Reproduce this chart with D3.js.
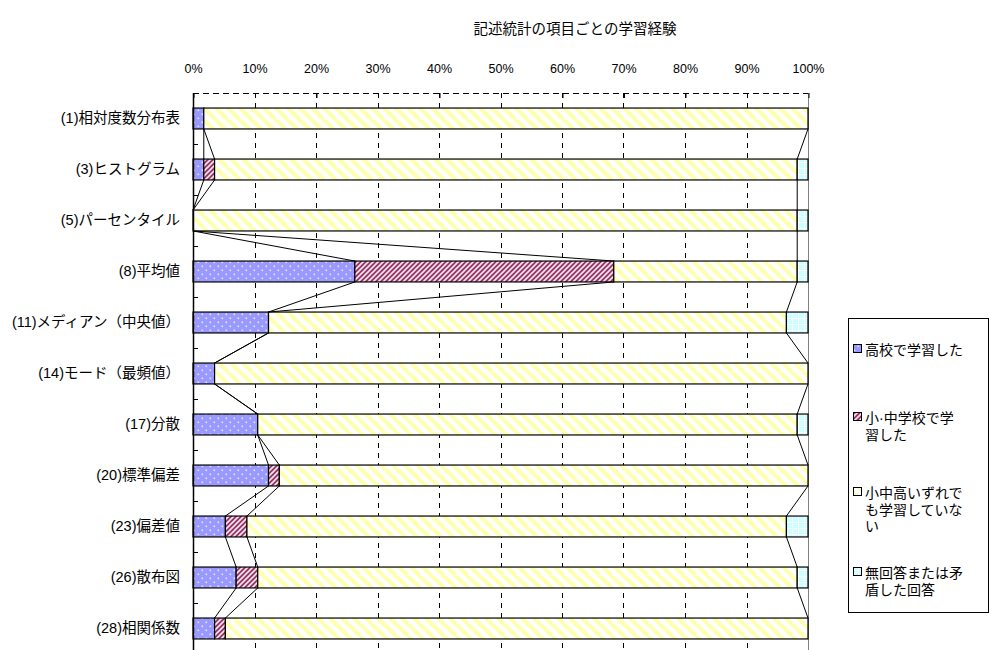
<!DOCTYPE html>
<html>
<head>
<meta charset="utf-8">
<script src="https://cdn.jsdelivr.net/npm/d3@7"></script>
<style>
  html, body { margin: 0; padding: 0; background: #fff; }
  svg { display: block; }
  text { font-family: "Liberation Sans", Arial, "Noto Sans CJK JP", sans-serif; fill: #000; }
</style>
</head>
<body>
<svg id="chart" width="990" height="650"></svg>
<script>
// Survey: for each descriptive-statistics item, where respondents learned it (counts of respondents)
const titleText = "記述統計の項目ごとの学習経験";
const categories = [
  "(1)相対度数分布表", "(3)ヒストグラム", "(5)パーセンタイル", "(8)平均値",
  "(11)メディアン（中央値）", "(14)モード（最頻値）", "(17)分散", "(20)標準偏差",
  "(23)偏差値", "(26)散布図", "(28)相関係数"
];
const seriesNames = ["高校で学習した", "小·中学校で学習した", "小中高いずれでも学習していない", "無回答または矛盾した回答"];
const legendLines = [
  ["高校で学習した"],
  ["小·中学校で学", "習した"],
  ["小中高いずれで", "も学習していな", "い"],
  ["無回答または矛", "盾した回答"]
];
const highSchool   = [1, 1, 0, 15, 7, 2, 6, 7, 3, 4, 2];
const elemJunior   = [0, 1, 0, 24, 0, 0, 0, 1, 2, 2, 1];
const notLearned   = [56, 54, 56, 17, 48, 55, 50, 49, 50, 50, 54];
const noAnswer     = [0, 1, 1, 1, 2, 0, 1, 0, 2, 1, 0];
const tickValues   = [0, 0.1, 0.2, 0.3, 0.4, 0.5, 0.6, 0.7, 0.8, 0.9, 1.0];

const rows = categories.map((c, i) => ({
  cat: c, s0: highSchool[i], s1: elemJunior[i], s2: notLearned[i], s3: noAnswer[i]
}));
const keys = ["s0", "s1", "s2", "s3"];

const svg = d3.select("#chart");
const defs = svg.append("defs");

// Fill patterns for the four series
function pattern(id, w, h, build) {
  const p = defs.append("pattern").attr("id", id).attr("patternUnits", "userSpaceOnUse")
    .attr("width", w).attr("height", h);
  build(p);
}
pattern("pBlue", 8, 8, p => {
  p.append("rect").attr("width", 8).attr("height", 8).attr("fill", "#9999ff");
  p.append("rect").attr("x", 1.5).attr("y", 1.5).attr("width", 1.6).attr("height", 1.6).attr("fill", "#e4e4ff");
  p.append("rect").attr("x", 5.5).attr("y", 5.5).attr("width", 1.6).attr("height", 1.6).attr("fill", "#e4e4ff");
});
pattern("pMaroon", 5, 5, p => {
  p.append("rect").attr("width", 5).attr("height", 5).attr("fill", "#993366");
  p.append("path").attr("d", "M-1,1 L1,-1 M0,5 L5,0 M4,6 L6,4")
    .attr("stroke", "#f6e6ee").attr("stroke-width", 1.6);
});
pattern("pYellow", 12, 12, p => {
  p.append("rect").attr("width", 12).attr("height", 12).attr("fill", "#ffffff");
  p.append("path").attr("d", "M0,0 L12,12 M-6,6 L0,12 M6,-6 L18,6")
    .attr("stroke", "#ffffb0").attr("stroke-width", 4.2);
});
pattern("pCyan", 6, 6, p => {
  p.append("rect").attr("width", 6).attr("height", 6).attr("fill", "#ccffff");
  p.append("path").attr("d", "M0,0.5 H6 M0.5,0 V6").attr("stroke", "#ffffff").attr("stroke-width", 1);
});
const fills = ["url(#pBlue)", "url(#pMaroon)", "url(#pYellow)", "url(#pCyan)"];

// Plot area
const plotL = 193, plotR = 808, plotT = 93, plotB = 654;
const x = d3.scaleLinear().domain([0, 1]).range([plotL, plotR]);
const y = d3.scaleBand().domain(categories).range([plotT, plotB]).padding(0);
const step = y.step();
const barH = step * 0.41;
const barY = c => y(c) + (step - barH) / 2;

// Title
svg.append("text").attr("x", 575).attr("y", 34).attr("text-anchor", "middle")
  .style("font-size", "14.5px").text(titleText);

// Vertical dashed gridlines
svg.append("g").selectAll("line").data(tickValues.slice(1, -1)).join("line")
  .attr("x1", d => Math.round(x(d)) + 0.5).attr("x2", d => Math.round(x(d)) + 0.5)
  .attr("y1", plotT).attr("y2", plotB)
  .attr("stroke", "#000").attr("stroke-width", 1).attr("stroke-dasharray", "5,5");

// Top border (dashed) and right border
svg.append("line").attr("x1", plotL).attr("x2", plotR).attr("y1", plotT + 0.5).attr("y2", plotT + 0.5)
  .attr("stroke", "#000").attr("stroke-dasharray", "6,4");
svg.append("line").attr("x1", plotR + 0.5).attr("x2", plotR + 0.5).attr("y1", plotT).attr("y2", plotB)
  .attr("stroke", "#808080").attr("stroke-width", 1);

// Top value axis with inward ticks
const xAxis = d3.axisTop(x).tickValues(tickValues).tickSize(0).tickPadding(0)
  .tickFormat(d3.format(".0%"));
const gx = svg.append("g").attr("transform", `translate(0,${plotT})`).call(xAxis);
gx.select(".domain").remove();
gx.selectAll("text").attr("y", -20).style("font-size", "12.5px").style("font-family", "'Liberation Sans', Arial, sans-serif");
gx.selectAll(".tick").append("line").attr("y1", 0).attr("y2", 5)
  .attr("stroke", "#000").attr("x1", 0.5).attr("x2", 0.5);

// Stacked 100% bars
const stack = d3.stack().keys(keys).offset(d3.stackOffsetExpand);
const layers = stack(rows);

const gBars = svg.append("g");
layers.forEach((layer, li) => {
  gBars.append("g").selectAll("rect").data(layer.filter(d => d[1] - d[0] > 0)).join("rect")
    .attr("x", d => x(d[0]))
    .attr("width", d => x(d[1]) - x(d[0]))
    .attr("y", d => barY(d.data.cat))
    .attr("height", barH)
    .attr("fill", fills[li])
    .attr("stroke", "#000").attr("stroke-width", 1.2);
});

// Series lines joining segment ends of neighbouring bars
const gSeries = svg.append("g");
layers.slice(0, 3).forEach(layer => {
  for (let i = 0; i < layer.length - 1; i++) {
    const a = layer[i], b = layer[i + 1];
    gSeries.append("line")
      .attr("x1", x(a[1])).attr("y1", barY(a.data.cat) + barH)
      .attr("x2", x(b[1])).attr("y2", barY(b.data.cat))
      .attr("stroke", "#000").attr("stroke-width", 1);
  }
});

// Left category axis
const yAxis = d3.axisLeft(y).tickSize(0).tickPadding(13);
const gy = svg.append("g").attr("transform", `translate(${plotL},0)`).call(yAxis);
gy.select(".domain").remove();
gy.selectAll("text").style("font-size", "14.5px");
svg.append("line").attr("x1", plotL + 0.5).attr("x2", plotL + 0.5).attr("y1", plotT).attr("y2", plotB)
  .attr("stroke", "#000").attr("stroke-width", 1.5);
svg.append("g").selectAll("line").data(categories.slice(1)).join("line")
  .attr("x1", plotL).attr("x2", plotL + 5)
  .attr("y1", d => Math.round(y(d)) + 0.5).attr("y2", d => Math.round(y(d)) + 0.5)
  .attr("stroke", "#000");

// Legend
const lg = svg.append("g");
lg.append("rect").attr("x", 848.5).attr("y", 318.5).attr("width", 140).attr("height", 294)
  .attr("fill", "#fff").attr("stroke", "#000").attr("stroke-width", 1);
const legendY = [350, 418, 493, 573];
seriesNames.forEach((name, i) => {
  lg.append("rect").attr("x", 853.5).attr("y", legendY[i] - 5.5).attr("width", 8).attr("height", 8)
    .attr("fill", fills[i]).attr("stroke", "#000").attr("stroke-width", 1);
  const t = lg.append("text").attr("x", 865).attr("y", legendY[i] + 5).style("font-size", "14px");
  legendLines[i].forEach((ln, j) => {
    t.append("tspan").attr("x", 865).attr("dy", j === 0 ? 0 : 16.5).text(ln);
  });
});
</script>
</body>
</html>
